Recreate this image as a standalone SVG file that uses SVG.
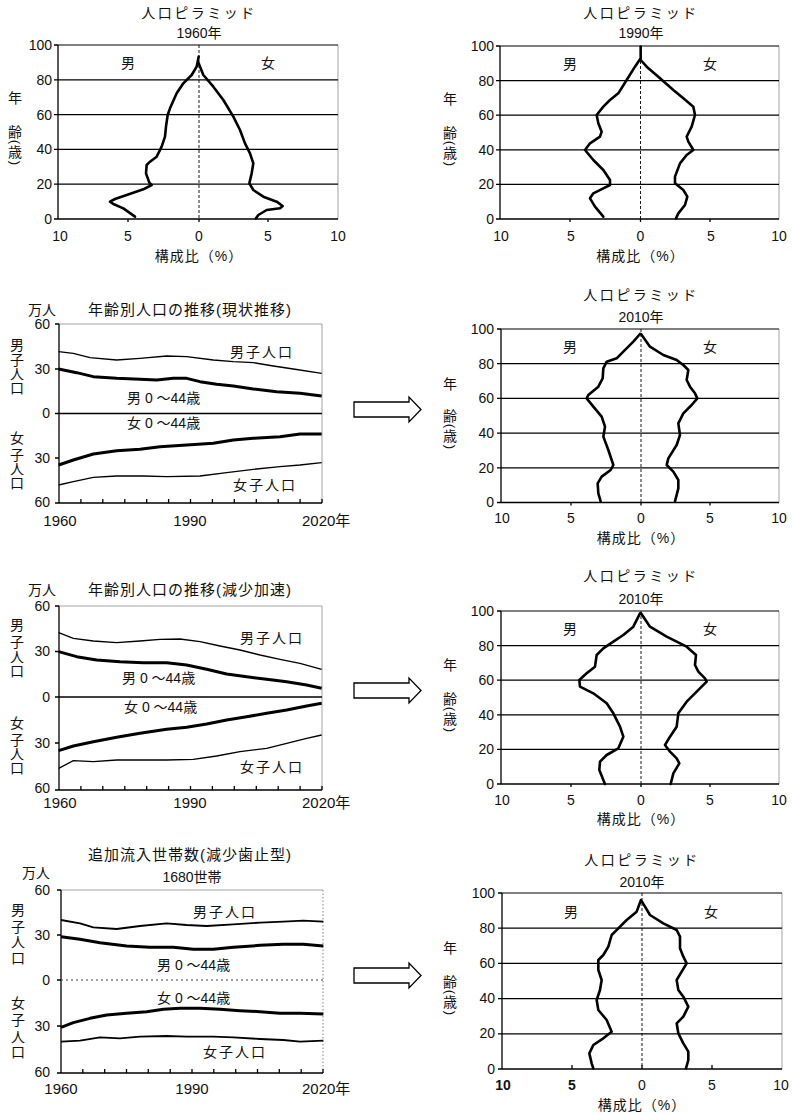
<svg xmlns="http://www.w3.org/2000/svg" width="792" height="1114" viewBox="0 0 792 1114">
<style>
text{font-family:"Liberation Sans","Noto Sans CJK JP",sans-serif;fill:#111}
.j{font-size:14px}
.tt{font-size:14px;letter-spacing:2.5px}
.ct{font-size:15px;letter-spacing:1px}
.n{font-size:14px}
.nr{font-size:14px;text-anchor:end}
.m{text-anchor:middle}
.p{font-family:"Liberation Sans",sans-serif;font-size:13px;text-anchor:middle;dominant-baseline:central}
.ax{stroke:#000;stroke-width:1.3;fill:none}
.gr{stroke:#000;stroke-width:1.2;fill:none}
.fr{stroke:#999;stroke-width:0.9;fill:none}
.dash{stroke:#000;stroke-width:0.9;stroke-dasharray:3 2;fill:none}
.cv{stroke:#000;stroke-width:2.6;fill:none;stroke-linejoin:round;stroke-linecap:round}
.thin{stroke:#000;stroke-width:1.3;fill:none;stroke-linejoin:round}
.mid{stroke:#000;stroke-width:1.9;fill:none;stroke-linejoin:round}
.thick{stroke:#000;stroke-width:3;fill:none;stroke-linejoin:round}
.arr{fill:#fff;stroke:#000;stroke-width:1.3}
</style>

<!-- ===== Pyramid 1 (1960) ===== -->
<g id="pyr1960">
  <text class="tt m" x="199" y="18">人口ピラミッド</text>
  <text class="j m" x="199" y="38">1960年</text>
  <line class="fr" x1="338" y1="45" x2="338" y2="219"/>
  <line class="gr" x1="58" y1="45" x2="338" y2="45"/>
  <line class="gr" x1="58" y1="79.8" x2="338" y2="79.8"/>
  <line class="gr" x1="58" y1="114.6" x2="338" y2="114.6"/>
  <line class="gr" x1="58" y1="149.4" x2="338" y2="149.4"/>
  <line class="gr" x1="58" y1="184.2" x2="338" y2="184.2"/>
  <line class="ax" x1="58" y1="45" x2="58" y2="219"/>
  <line class="ax" x1="58" y1="219" x2="338" y2="219"/>
  <path class="ax" d="M54,45H58M54,79.8H58M54,114.6H58M54,149.4H58M54,184.2H58M54,219H58M128,219V222M199,219V222M268,219V222"/>
  <line class="dash" x1="199" y1="45" x2="199" y2="219"/>
  <text class="nr" x="52" y="50">100</text>
  <text class="nr" x="52" y="85">80</text>
  <text class="nr" x="52" y="120">60</text>
  <text class="nr" x="52" y="154">40</text>
  <text class="nr" x="52" y="189">20</text>
  <text class="nr" x="52" y="224">0</text>
  <text class="n m" x="60" y="241">10</text>
  <text class="n m" x="128" y="241">5</text>
  <text class="n m" x="199" y="241">0</text>
  <text class="n m" x="268" y="241">5</text>
  <text class="n m" x="338" y="241">10</text>
  <text class="j m" x="199" y="261" style="letter-spacing:1px">構成比（%）</text>
  <text class="j m" x="128" y="68">男</text>
  <text class="j m" x="268" y="68">女</text>
  <text class="j m" x="15" y="103">年</text>
  <text class="j m" x="15" y="137">齢</text>
  <text class="p" x="15" y="142" transform="rotate(90 15 142)">(</text>
  <text class="j m" x="15" y="157">歳</text>
  <text class="p" x="15" y="163" transform="rotate(90 15 163)">)</text>
  <g transform="scale(0.33333)">
    <path class="cv" vector-effect="non-scaling-stroke" d="M596,170L590,200L575,225L550,250L530,280L510,325L503,345L498,380L495,410L485,440L470,470L450,485L440,495L438,520L448,548L455,555L430,568L380,585L345,597L330,605L340,612L370,625L405,650"/>
    <path class="cv" vector-effect="non-scaling-stroke" d="M596,190L610,225L640,260L670,300L700,350L720,390L735,430L750,460L760,490L755,520L748,550L760,570L790,590L830,605L848,618L840,625L800,630L775,645L768,655"/>
  </g>
</g>

<!-- ===== Pyramid 2 (1990) ===== -->
<g id="pyr1990">
  <text class="tt m" x="641" y="18">人口ピラミッド</text>
  <text class="j m" x="641" y="38">1990年</text>
  <line class="fr" x1="779" y1="46" x2="779" y2="219"/>
  <line class="gr" x1="500" y1="46" x2="779" y2="46"/>
  <line class="gr" x1="500" y1="80.6" x2="779" y2="80.6"/>
  <line class="gr" x1="500" y1="115.2" x2="779" y2="115.2"/>
  <line class="gr" x1="500" y1="149.8" x2="779" y2="149.8"/>
  <line class="gr" x1="500" y1="184.4" x2="779" y2="184.4"/>
  <line class="ax" x1="500" y1="46" x2="500" y2="219"/>
  <line class="ax" x1="500" y1="219" x2="779" y2="219"/>
  <path class="ax" d="M496,46H500M496,80.6H500M496,115.2H500M496,149.8H500M496,184.4H500M496,219H500M570,219V222M640.5,219V222M710,219V222"/>
  <line class="dash" x1="640.5" y1="46" x2="640.5" y2="219"/>
  <text class="nr" x="494" y="51">100</text>
  <text class="nr" x="494" y="86">80</text>
  <text class="nr" x="494" y="120">60</text>
  <text class="nr" x="494" y="155">40</text>
  <text class="nr" x="494" y="189">20</text>
  <text class="nr" x="494" y="224">0</text>
  <text class="n m" x="501" y="241">10</text>
  <text class="n m" x="571" y="241">5</text>
  <text class="n m" x="640.5" y="241">0</text>
  <text class="n m" x="711" y="241">5</text>
  <text class="n m" x="779" y="241">10</text>
  <text class="j m" x="640.5" y="261" style="letter-spacing:1px">構成比（%）</text>
  <text class="j m" x="570" y="69">男</text>
  <text class="j m" x="710" y="69">女</text>
  <text class="j m" x="450" y="104">年</text>
  <text class="j m" x="450" y="138">齢</text>
  <text class="p" x="450" y="143" transform="rotate(90 450 143)">(</text>
  <text class="j m" x="450" y="158">歳</text>
  <text class="p" x="450" y="164" transform="rotate(90 450 164)">)</text>
  <g transform="translate(430,0) scale(0.33333)">
    <path class="cv" vector-effect="non-scaling-stroke" d="M632,140L632,175L615,200L590,240L565,280L540,300L520,320L500,345L505,370L515,395L510,410L480,430L465,450L490,480L520,510L540,540L540,555L520,565L490,580L480,595L495,620L520,650"/>
    <path class="cv" vector-effect="non-scaling-stroke" d="M632,180L650,200L690,235L730,270L760,295L790,320L795,345L785,380L770,410L775,425L790,450L770,465L750,490L735,530L735,550L760,570L772,590L765,615L745,640L738,655"/>
  </g>
</g>

<!-- ===== Pyramid 3 (2010, 現状推移) ===== -->
<g id="pyr2010a">
  <text class="tt m" x="641" y="300">人口ピラミッド</text>
  <text class="j m" x="641" y="322">2010年</text>
  <line class="fr" x1="779" y1="329" x2="779" y2="502.5"/>
  <line class="gr" x1="501" y1="329" x2="779" y2="329"/>
  <line class="gr" x1="501" y1="363.7" x2="779" y2="363.7"/>
  <line class="gr" x1="501" y1="398.4" x2="779" y2="398.4"/>
  <line class="gr" x1="501" y1="433.1" x2="779" y2="433.1"/>
  <line class="gr" x1="501" y1="467.8" x2="779" y2="467.8"/>
  <line class="ax" x1="501" y1="329" x2="501" y2="502.5"/>
  <line class="ax" x1="501" y1="502.5" x2="779" y2="502.5"/>
  <path class="ax" d="M497,329H501M497,363.7H501M497,398.4H501M497,433.1H501M497,467.8H501M497,502.5H501M571,502.5V505.5M641,502.5V505.5M710,502.5V505.5"/>
  <line class="dash" x1="641" y1="329" x2="641" y2="502.5"/>
  <text class="nr" x="494" y="334">100</text>
  <text class="nr" x="494" y="369">80</text>
  <text class="nr" x="494" y="403">60</text>
  <text class="nr" x="494" y="438">40</text>
  <text class="nr" x="494" y="473">20</text>
  <text class="nr" x="494" y="507">0</text>
  <text class="n m" x="502" y="523">10</text>
  <text class="n m" x="571" y="523">5</text>
  <text class="n m" x="641" y="523">0</text>
  <text class="n m" x="710" y="523">5</text>
  <text class="n m" x="779" y="523">10</text>
  <text class="j m" x="641" y="543" style="letter-spacing:1px">構成比（%）</text>
  <text class="j m" x="570" y="352">男</text>
  <text class="j m" x="710" y="352">女</text>
  <text class="j m" x="450" y="389">年</text>
  <text class="j m" x="450" y="421">齢</text>
  <text class="p" x="450" y="426" transform="rotate(90 450 426)">(</text>
  <text class="j m" x="450" y="441">歳</text>
  <text class="p" x="450" y="447" transform="rotate(90 450 447)">)</text>
  <g transform="translate(340,280) scale(0.33333)">
    <path class="cv" vector-effect="non-scaling-stroke" d="M900,162L880,185L850,215L830,235L800,245L790,265L788,295L775,320L745,345L740,355L760,380L785,410L795,440L790,470L805,510L820,555L812,570L785,590L773,610L775,640L782,664"/>
    <path class="cv" vector-effect="non-scaling-stroke" d="M903,162L930,200L970,225L1010,240L1030,255L1045,270L1040,300L1050,320L1065,340L1072,355L1055,375L1030,400L1015,430L1020,465L1010,495L985,535L980,555L1000,575L1015,600L1015,625L1005,664"/>
  </g>
</g>

<!-- ===== Pyramid 4 (2010, 減少加速) ===== -->
<g id="pyr2010b">
  <text class="tt m" x="641" y="581">人口ピラミッド</text>
  <text class="j m" x="641" y="604">2010年</text>
  <line class="fr" x1="779" y1="611" x2="779" y2="784"/>
  <line class="gr" x1="501" y1="611" x2="779" y2="611"/>
  <line class="gr" x1="501" y1="645.6" x2="779" y2="645.6"/>
  <line class="gr" x1="501" y1="680.2" x2="779" y2="680.2"/>
  <line class="gr" x1="501" y1="714.8" x2="779" y2="714.8"/>
  <line class="gr" x1="501" y1="749.4" x2="779" y2="749.4"/>
  <line class="ax" x1="501" y1="611" x2="501" y2="784"/>
  <line class="ax" x1="501" y1="784" x2="779" y2="784"/>
  <path class="ax" d="M497,611H501M497,645.6H501M497,680.2H501M497,714.8H501M497,749.4H501M497,784H501M571,784V787M641,784V787M710,784V787"/>
  <line class="dash" x1="641" y1="611" x2="641" y2="784"/>
  <text class="nr" x="494" y="616">100</text>
  <text class="nr" x="494" y="651">80</text>
  <text class="nr" x="494" y="685">60</text>
  <text class="nr" x="494" y="720">40</text>
  <text class="nr" x="494" y="754">20</text>
  <text class="nr" x="494" y="789">0</text>
  <text class="n m" x="502" y="805">10</text>
  <text class="n m" x="571" y="805">5</text>
  <text class="n m" x="641" y="805">0</text>
  <text class="n m" x="710" y="805">5</text>
  <text class="n m" x="779" y="805">10</text>
  <text class="j m" x="641" y="824" style="letter-spacing:1px">構成比（%）</text>
  <text class="j m" x="570" y="634">男</text>
  <text class="j m" x="710" y="634">女</text>
  <text class="j m" x="450" y="670">年</text>
  <text class="j m" x="450" y="704">齢</text>
  <text class="p" x="450" y="709" transform="rotate(90 450 709)">(</text>
  <text class="j m" x="450" y="724">歳</text>
  <text class="p" x="450" y="730" transform="rotate(90 450 730)">)</text>
  <g transform="translate(340,560) scale(0.33333)">
    <path class="cv" vector-effect="non-scaling-stroke" d="M900,160L880,200L850,225L820,245L790,265L770,285L765,320L740,340L718,360L720,380L760,400L800,430L820,460L840,500L850,530L835,565L800,585L780,605L778,630L790,660L795,672"/>
    <path class="cv" vector-effect="non-scaling-stroke" d="M903,160L930,200L980,230L1040,260L1068,285L1065,315L1075,335L1095,355L1100,365L1070,395L1040,425L1015,460L1010,500L990,530L975,555L990,575L1010,595L1018,610L1000,640L992,672"/>
  </g>
</g>

<!-- ===== Pyramid 5 (2010, 減少歯止型) ===== -->
<g id="pyr2010c">
  <text class="tt m" x="642" y="865">人口ピラミッド</text>
  <text class="j m" x="642" y="887">2010年</text>
  <line class="fr" x1="782" y1="893" x2="782" y2="1069"/>
  <line class="gr" x1="502" y1="893" x2="782" y2="893"/>
  <line class="gr" x1="502" y1="928.2" x2="782" y2="928.2"/>
  <line class="gr" x1="502" y1="963.4" x2="782" y2="963.4"/>
  <line class="gr" x1="502" y1="998.6" x2="782" y2="998.6"/>
  <line class="gr" x1="502" y1="1033.8" x2="782" y2="1033.8"/>
  <line class="ax" x1="502" y1="893" x2="502" y2="1069"/>
  <line class="ax" x1="502" y1="1069" x2="782" y2="1069"/>
  <path class="ax" d="M498,893H502M498,928.2H502M498,963.4H502M498,998.6H502M498,1033.8H502M498,1069H502M572,1069V1065M642,1069V1065M712,1069V1065"/>
  <line class="dash" x1="642" y1="893" x2="642" y2="1069"/>
  <text class="nr" x="495" y="898">100</text>
  <text class="nr" x="495" y="933">80</text>
  <text class="nr" x="495" y="968">60</text>
  <text class="nr" x="495" y="1003">40</text>
  <text class="nr" x="495" y="1038">20</text>
  <text class="nr" x="495" y="1074">0</text>
  <text class="n m" x="503" y="1090" font-weight="bold">10</text>
  <text class="n m" x="572" y="1090" font-weight="bold">5</text>
  <text class="n m" x="642" y="1090">0</text>
  <text class="n m" x="712" y="1090">5</text>
  <text class="n m" x="781" y="1090">10</text>
  <text class="j m" x="642" y="1110" style="letter-spacing:1px">構成比（%）</text>
  <text class="j m" x="571" y="917">男</text>
  <text class="j m" x="711" y="917">女</text>
  <text class="j m" x="450" y="953">年</text>
  <text class="j m" x="450" y="987">齢</text>
  <text class="p" x="450" y="992" transform="rotate(90 450 992)">(</text>
  <text class="j m" x="450" y="1007">歳</text>
  <text class="p" x="450" y="1013" transform="rotate(90 450 1013)">)</text>
  <g transform="translate(340,840) scale(0.33333)">
    <path class="cv" vector-effect="non-scaling-stroke" d="M903,180L890,215L860,240L835,265L815,285L805,320L790,345L775,360L775,390L785,420L780,450L770,480L775,510L800,540L815,575L790,595L760,615L748,640L755,670L760,685"/>
    <path class="cv" vector-effect="non-scaling-stroke" d="M906,185L930,225L970,250L1010,270L1020,290L1020,325L1030,350L1040,370L1025,395L1010,420L1015,450L1030,470L1045,500L1030,530L1010,550L1015,580L1030,610L1045,635L1045,660L1038,685"/>
  </g>
</g>

<!-- ===== Line chart 1 (現状推移) ===== -->
<g id="trend1">
  <text class="j m" x="42" y="315">万人</text>
  <text class="ct m" x="190" y="315">年齢別人口の推移(現状推移)</text>
  <path class="fr" d="M59,324H322V503"/>
  <line class="ax" x1="59" y1="324" x2="59" y2="503"/>
  <line class="ax" x1="59" y1="503" x2="322" y2="503"/>
  <line class="ax" x1="59" y1="413.5" x2="322" y2="413.5"/>
  <path class="ax" d="M55,324H59M55,369H59M55,413.5H59M55,458H59M55,503H59M80.9,503V499M102.8,503V499M124.8,503V499M146.7,503V499M168.6,503V499M190.5,503V499M212.4,503V499M234.3,503V499M256.3,503V499M278.2,503V499M300.1,503V499M322,503V499"/>
  <text class="nr" x="50" y="329">60</text>
  <text class="nr" x="50" y="374">30</text>
  <text class="nr" x="50" y="418">0</text>
  <text class="nr" x="50" y="463">30</text>
  <text class="nr" x="50" y="507">60</text>
  <text class="n m" x="60" y="526" style="font-size:15px">1960</text>
  <text class="n m" x="190" y="526" style="font-size:15px">1990</text>
  <text class="n" x="302" y="526" style="font-size:15px">2020年</text>
  <text class="j m" x="17" y="350">男</text>
  <text class="j m" x="17" y="365">子</text>
  <text class="j m" x="17" y="379">人</text>
  <text class="j m" x="17" y="393">口</text>
  <text class="j m" x="17" y="443">女</text>
  <text class="j m" x="17" y="460">子</text>
  <text class="j m" x="17" y="474">人</text>
  <text class="j m" x="17" y="488">口</text>
  <text class="j" x="230" y="357" style="letter-spacing:2px">男子人口</text>
  <text class="j" x="127" y="403">男 0 ～44歳</text>
  <text class="j" x="127" y="428">女 0 ～44歳</text>
  <text class="j" x="233" y="490" style="letter-spacing:2px">女子人口</text>
  <g transform="translate(0,290) scale(0.33333)">
    <path class="thin" vector-effect="non-scaling-stroke" d="M176,185L220,190L270,203L350,210L420,205L500,198L560,200L640,210L700,215L760,218L820,228L880,237L965,250"/>
    <path class="thick" vector-effect="non-scaling-stroke" d="M176,237L230,248L280,260L350,265L420,268L470,270L520,265L560,265L600,275L650,283L700,288L760,297L830,305L900,310L965,318"/>
    <path class="thick" vector-effect="non-scaling-stroke" d="M176,525L220,510L280,492L350,482L420,478L480,470L560,465L640,460L700,450L760,445L840,440L900,432L965,432"/>
    <path class="thin" vector-effect="non-scaling-stroke" d="M176,585L220,575L280,562L350,558L430,558L500,560L600,558L680,548L760,538L840,530L900,525L965,518"/>
  </g>
</g>

<!-- ===== Line chart 2 (減少加速) ===== -->
<g id="trend2">
  <text class="j m" x="42" y="595">万人</text>
  <text class="ct m" x="190" y="595">年齢別人口の推移(減少加速)</text>
  <path class="fr" d="M59,606H322V790"/>
  <line class="ax" x1="59" y1="606" x2="59" y2="790"/>
  <line class="ax" x1="59" y1="790" x2="322" y2="790"/>
  <line class="ax" x1="59" y1="697" x2="322" y2="697"/>
  <path class="ax" d="M55,606H59M55,651.5H59M55,697H59M55,743H59M55,790H59M80.9,790V786M102.8,790V786M124.8,790V786M146.7,790V786M168.6,790V786M190.5,790V786M212.4,790V786M234.3,790V786M256.3,790V786M278.2,790V786M300.1,790V786M322,790V786"/>
  <text class="nr" x="50" y="611">60</text>
  <text class="nr" x="50" y="656">30</text>
  <text class="nr" x="50" y="702">0</text>
  <text class="nr" x="50" y="748">30</text>
  <text class="nr" x="50" y="793">60</text>
  <text class="n m" x="60" y="808" style="font-size:15px">1960</text>
  <text class="n m" x="190" y="808" style="font-size:15px">1990</text>
  <text class="n" x="302" y="808" style="font-size:15px">2020年</text>
  <text class="j m" x="17" y="630">男</text>
  <text class="j m" x="17" y="647">子</text>
  <text class="j m" x="17" y="662">人</text>
  <text class="j m" x="17" y="676">口</text>
  <text class="j m" x="17" y="728">女</text>
  <text class="j m" x="17" y="745">子</text>
  <text class="j m" x="17" y="759">人</text>
  <text class="j m" x="17" y="773">口</text>
  <text class="j" x="240" y="643" style="letter-spacing:2px">男子人口</text>
  <text class="j" x="122" y="683">男 0 ～44歳</text>
  <text class="j" x="124" y="712">女 0 ～44歳</text>
  <text class="j" x="240" y="772" style="letter-spacing:2px">女子人口</text>
  <g transform="translate(0,570) scale(0.33333)">
    <path class="thin" vector-effect="non-scaling-stroke" d="M176,188L220,205L280,213L350,218L420,213L480,208L540,207L600,215L660,228L720,240L780,255L840,268L900,280L965,298"/>
    <path class="thick" vector-effect="non-scaling-stroke" d="M176,245L230,260L290,270L360,275L430,278L500,278L560,285L620,298L680,312L740,320L800,328L860,335L920,345L965,355"/>
    <path class="thick" vector-effect="non-scaling-stroke" d="M176,542L220,528L280,515L350,502L420,490L500,478L560,472L620,462L680,450L740,440L800,430L860,420L920,408L965,400"/>
    <path class="thin" vector-effect="non-scaling-stroke" d="M176,595L220,572L280,575L350,570L430,570L500,570L580,568L650,558L720,545L800,535L860,520L920,505L965,495"/>
  </g>
</g>

<!-- ===== Line chart 3 (減少歯止型) ===== -->
<g id="trend3">
  <text class="ct m" x="190" y="860">追加流入世帯数(減少歯止型)</text>
  <text class="j m" x="192" y="882">1680世帯</text>
  <text class="j m" x="36" y="878">万人</text>
  <path class="fr" d="M61,890H323" />
  <line x1="323" y1="890" x2="323" y2="1073" stroke="#777" stroke-width="0.9" stroke-dasharray="1.5 2"/>
  <line class="ax" x1="61" y1="890" x2="61" y2="1073"/>
  <line class="ax" x1="61" y1="1073" x2="323" y2="1073"/>
  <line x1="61" y1="980" x2="323" y2="980" stroke="#444" stroke-width="1" stroke-dasharray="2 3"/>
  <path class="ax" d="M57,890H61M57,935H61M57,980H61M57,1026H61M57,1073H61M82.8,1073V1069M104.7,1073V1069M126.5,1073V1069M148.3,1073V1069M170.2,1073V1069M192,1073V1069M213.8,1073V1069M235.7,1073V1069M257.5,1073V1069M279.3,1073V1069M301.2,1073V1069M323,1073V1069"/>
  <text class="nr" x="50" y="895">60</text>
  <text class="nr" x="50" y="940">30</text>
  <text class="nr" x="50" y="985">0</text>
  <text class="nr" x="50" y="1031">30</text>
  <text class="nr" x="50" y="1077">60</text>
  <text class="n m" x="61" y="1094" style="font-size:15px">1960</text>
  <text class="n m" x="192" y="1094" style="font-size:15px">1990</text>
  <text class="n" x="302" y="1094" style="font-size:15px">2020年</text>
  <text class="j m" x="18" y="915">男</text>
  <text class="j m" x="18" y="932">子</text>
  <text class="j m" x="18" y="947">人</text>
  <text class="j m" x="18" y="963">口</text>
  <text class="j m" x="18" y="1008">女</text>
  <text class="j m" x="18" y="1025">子</text>
  <text class="j m" x="18" y="1042">人</text>
  <text class="j m" x="18" y="1057">口</text>
  <text class="j" x="193" y="917" style="letter-spacing:2px">男子人口</text>
  <text class="j" x="157" y="970">男 0 ～44歳</text>
  <text class="j" x="157" y="1003">女 0 ～44歳</text>
  <text class="j" x="203" y="1057" style="letter-spacing:2px">女子人口</text>
  <g transform="translate(0,840) scale(0.33333)">
    <path class="mid" vector-effect="non-scaling-stroke" d="M183,240L240,250L280,262L350,267L420,258L500,250L560,255L620,258L700,253L780,248L850,245L910,242L970,245"/>
    <path class="thick" vector-effect="non-scaling-stroke" d="M183,290L240,298L300,308L380,318L450,322L520,322L580,328L640,328L700,322L780,316L850,313L910,313L970,318"/>
    <path class="thick" vector-effect="non-scaling-stroke" d="M183,562L220,548L270,535L320,525L380,520L440,515L490,508L540,505L600,505L660,508L720,512L780,515L840,520L900,520L970,522"/>
    <path class="mid" vector-effect="non-scaling-stroke" d="M183,605L240,602L300,592L360,595L420,590L500,588L560,590L640,590L700,592L780,597L850,600L900,605L970,602"/>
  </g>
</g>

<!-- ===== Connectors (arrows) ===== -->
<g id="connectors">
  <path class="arr" d="M354,402H409V397L421,409.5L409,422V417H354Z"/>
  <path class="arr" d="M354,683H409V678L421,690.5L409,703V698H354Z"/>
  <path class="arr" d="M354,968H409V963L421,975.5L409,988V983H354Z"/>
</g>
</svg>
